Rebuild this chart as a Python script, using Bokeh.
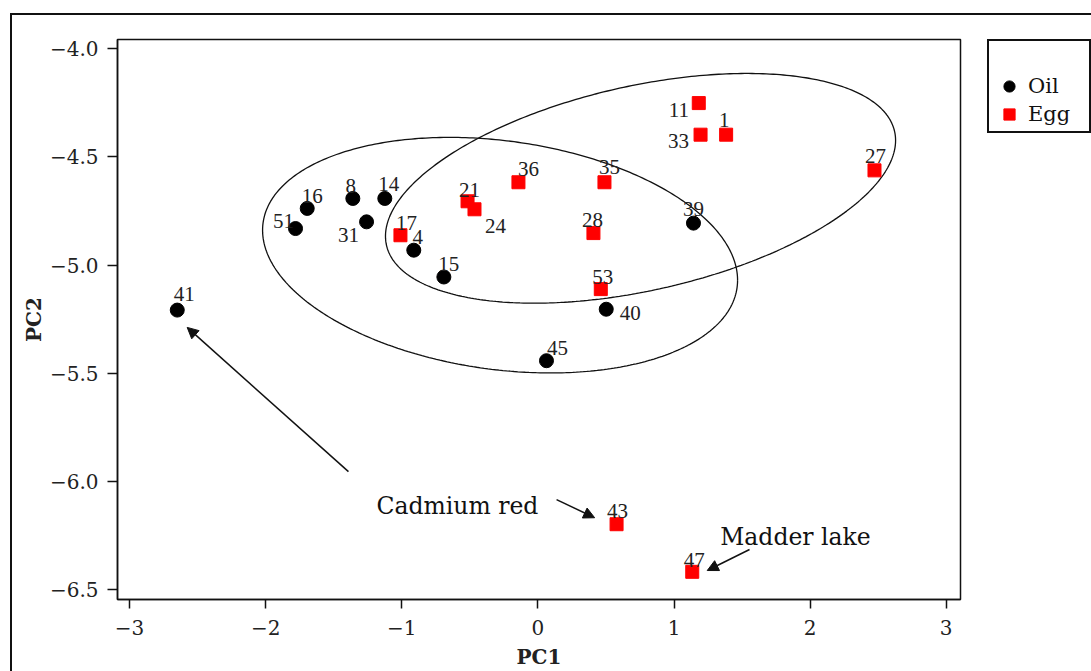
import numpy as np
from bokeh.plotting import figure
from bokeh.layouts import row
from bokeh.models import (ColumnDataSource, Range1d, FixedTicker, Legend, LegendItem,
                          Arrow, NormalHead)
from bokeh.core.properties import value
from bokeh.embed import file_html
from bokeh.resources import INLINE

# ---- data ----
oil_ids = ["41", "51", "16", "8", "31", "14", "4", "15", "45", "40", "39"]
oil_pc1 = [-2.650, -1.781, -1.695, -1.360, -1.259, -1.125, -0.912, -0.691, 0.063, 0.502, 1.143]
oil_pc2 = [-5.208, -4.831, -4.738, -4.692, -4.800, -4.692, -4.931, -5.055, -5.442, -5.204, -4.806]

egg_ids = ["17", "21", "24", "36", "35", "28", "53", "11", "33", "1", "27", "43", "47"]
egg_pc1 = [-1.010, -0.517, -0.466, -0.143, 0.489, 0.408, 0.462, 1.182, 1.195, 1.383, 2.473, 0.578, 1.134]
egg_pc2 = [-4.862, -4.705, -4.742, -4.617, -4.617, -4.852, -5.111, -4.251, -4.397, -4.397, -4.562, -6.198, -6.418]

# confidence ellipses: centre, half extents, correlation
ell_cx = [-0.278, 0.754]
ell_cy = [-4.954, -4.645]
ell_hx = [1.745, 1.874]
ell_hy = [0.5445, 0.531]
ell_rho = [-0.212, 0.417]

x_ticks = [-3, -2, -1, 0, 1, 2, 3]
x_tick_labels = ["\u22123", "\u22122", "\u22121", "0", "1", "2", "3"]
y_ticks = [-4.0, -4.5, -5.0, -5.5, -6.0, -6.5]
y_tick_labels = ["\u22124.0", "\u22124.5", "\u22125.0", "\u22125.5", "\u22126.0", "\u22126.5"]

# annotations
note_text = ["Cadmium red", "Madder lake"]
note_x = [-1.186, 1.340]
note_y = [-6.112, -6.258]
arrow_x0 = [-1.392, 0.137, 1.555]
arrow_y0 = [-5.955, -6.084, -6.315]
arrow_x1 = [-2.577, 0.417, 1.244]
arrow_y1 = [-5.288, -6.168, -6.412]

# label offsets (screen px) -- styling only
oil_dx = [7, -12, 5, -2, -18, 4, 4, 5, 11, 24, 0]
oil_dy = [-16, -8, -12, -12, 13, -14, -13, -13, -13, 4, -14]
egg_dx = [6, 2, 21, 10, 5, -1, 2, -20, -22, -2, 1, 1, 2]
egg_dy = [-12, -11, 17, -13, -15, -13, -12, 7, 6, -15, -14, -13, -12]

INK = "#111111"
SERIF = "DejaVu Serif"
H = 656

p = figure(width=950, height=H,
           x_range=Range1d(-3.089, 3.105), y_range=Range1d(-6.546, -3.957),
           output_backend="svg", toolbar_location=None,
           min_border_left=105, min_border_right=2,
           min_border_top=24, min_border_bottom=71)
p.xgrid.visible = False
p.ygrid.visible = False
p.outline_line_color = INK
p.outline_line_width = 1.5
p.background_fill_color = "white"
p.border_fill_color = "white"

# axes
for ax in (p.xaxis[0], p.yaxis[0]):
    ax.axis_line_color = INK
    ax.axis_line_width = 1.5
    ax.major_tick_line_color = INK
    ax.major_tick_line_width = 1.5
    ax.major_tick_in = 0
    ax.minor_tick_line_color = None
    ax.major_label_text_font = SERIF
    ax.major_label_text_font_size = "20px"
    ax.major_label_text_color = "#222222"
    ax.axis_label_text_font = SERIF
    ax.axis_label_text_font_size = "20px"
    ax.axis_label_text_font_style = "bold"
    ax.axis_label_text_color = "#222222"

p.xaxis.ticker = FixedTicker(ticks=x_ticks)
p.xaxis.major_label_overrides = {float(t): s for t, s in zip(x_ticks, x_tick_labels)}
p.xaxis.major_tick_out = 9
p.xaxis.major_label_standoff = 11
p.xaxis.axis_label = "PC1"
p.xaxis.axis_label_standoff = 7

p.yaxis.ticker = FixedTicker(ticks=y_ticks)
p.yaxis.major_label_overrides = {float(t): s for t, s in zip(y_ticks, y_tick_labels)}
p.yaxis.major_tick_out = 10
p.yaxis.major_label_standoff = 9
p.yaxis.axis_label = "PC2"
p.yaxis.axis_label_standoff = 1

# ellipses
t = np.linspace(0, 2 * np.pi, 400)
for cx, cy, hx, hy, r in zip(ell_cx, ell_cy, ell_hx, ell_hy, ell_rho):
    ex = cx + hx * np.cos(t)
    ey = cy + hy * (r * np.cos(t) + np.sqrt(1 - r * r) * np.sin(t))
    p.line(ex, ey, line_color=INK, line_width=1.3)

# points
oil_src = ColumnDataSource(dict(x=oil_pc1, y=oil_pc2, id=oil_ids, dx=oil_dx, dy=oil_dy))
egg_src = ColumnDataSource(dict(x=egg_pc1, y=egg_pc2, id=egg_ids, dx=egg_dx, dy=egg_dy))

oil_style = dict(marker="circle", size=14, fill_color="black", line_color="black")
egg_style = dict(marker="square", size=13, fill_color="#ff0000", line_color="#ff0000")

p.scatter("x", "y", source=oil_src, **oil_style)
p.scatter("x", "y", source=egg_src, **egg_style)

for src in (oil_src, egg_src):
    p.text("x", "y", text="id", source=src, x_offset="dx", y_offset="dy",
           text_font=value("Liberation Serif"), text_font_size="21px",
           text_color="#222222", text_align="center", text_baseline="alphabetic")

# annotations
note_src = ColumnDataSource(dict(x=note_x, y=note_y, text=note_text))
p.text("x", "y", text="text", source=note_src, text_font=value(SERIF),
       text_font_size="23.5px", text_color="#111111", text_align="left",
       text_baseline="alphabetic")

for xs, ys, xe, ye in zip(arrow_x0, arrow_y0, arrow_x1, arrow_y1):
    p.add_layout(Arrow(end=NormalHead(size=11, fill_color=INK, line_color=INK),
                       x_start=xs, y_start=ys, x_end=xe, y_end=ye,
                       line_color=INK, line_width=1.5))

# ---- legend panel (separate small figure to the right of the plot) ----
# it shares the data sources; its ranges show none of the points, only the legend
pl = figure(width=129, height=H, output_backend="svg", toolbar_location=None,
            x_axis_type=None, y_axis_type=None,
            x_range=Range1d(10, 11), y_range=Range1d(10, 11),
            min_border_left=25, min_border_right=0, min_border_top=24, min_border_bottom=0)
pl.xgrid.visible = False
pl.ygrid.visible = False
pl.outline_line_color = None
pl.background_fill_color = "white"
pl.border_fill_color = "white"

l_oil = pl.scatter("x", "y", source=oil_src, **oil_style)
l_egg = pl.scatter("x", "y", source=egg_src, **egg_style)

legend = Legend(items=[LegendItem(label="Oil", renderers=[l_oil]),
                       LegendItem(label="Egg", renderers=[l_egg])],
                location="top_left", title=" ", title_text_font_size="20px",
                title_standoff=5, padding=3, spacing=0, margin=0,
                glyph_width=34, glyph_height=28, label_standoff=2, label_width=58,
                label_text_font=SERIF, label_text_font_size="21px",
                label_text_color="#111111", border_line_color=INK,
                border_line_alpha=1.0, border_line_width=2,
                background_fill_color="white", background_fill_alpha=1.0)
pl.add_layout(legend, "center")

layout = row(p, pl, spacing=0)
layout.margin = (13, 0, 0, 10)
layout.styles = {"border-top": "2px solid #111111", "border-left": "2px solid #111111"}

open("out.html", "w").write(file_html(layout, INLINE))
